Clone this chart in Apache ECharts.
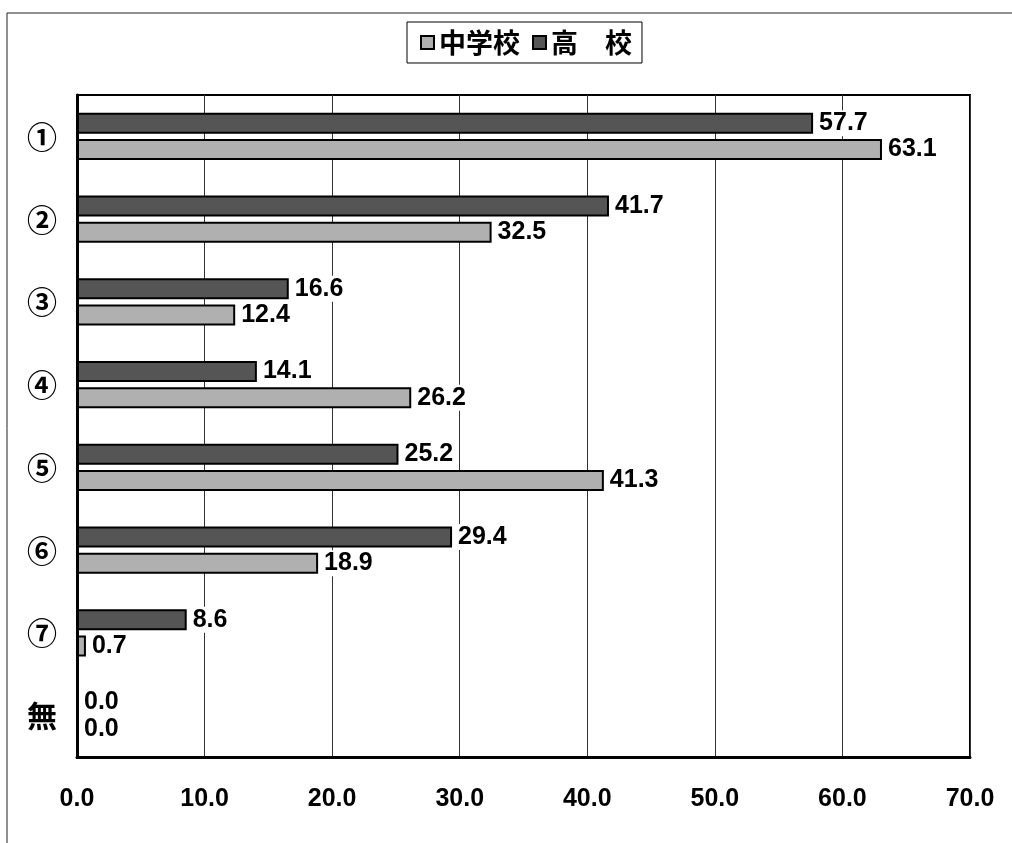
<!DOCTYPE html>
<html><head><meta charset="utf-8">
<script src="https://cdn.jsdelivr.net/npm/echarts@6/dist/echarts.min.js"></script>
<style>html,body{margin:0;padding:0;background:#fff}#c{width:1012px;height:843px}</style>
</head><body><div id="c"></div>
<script>
const categories = ['①','②','③','④','⑤','⑥','⑦','無'];
const highSchool = [57.7, 41.7, 16.6, 14.1, 25.2, 29.4, 8.6, 0.0];
const juniorHigh = [63.1, 32.5, 12.4, 26.2, 41.3, 18.9, 0.7, 0.0];
const seriesNames = ['中学校', '高　校'];
const xTicks = [0, 70, 10];

const numFont = '"Liberation Sans", Arial, sans-serif';
const cjkFont = '"Noto Sans CJK JP", sans-serif';

const chart = echarts.init(document.getElementById('c'));
const lbl = {
  show: true, position: 'right', distance: 4,
  formatter: p => p.value.toFixed(1),
  fontFamily: numFont, fontWeight: 'bold', fontSize: 25, color: '#000',
  backgroundColor: '#fff', padding: [1, 2, 0, 2]
};
chart.setOption({
  animation: false,
  backgroundColor: '#fff',
  graphic: [{ type: 'rect', shape: { x: 7, y: 13, width: 1100, height: 900 },
    style: { fill: 'none', stroke: '#222', lineWidth: 1 }, silent: true }],
  legend: {
    data: [seriesNames[0], seriesNames[1]],
    left: 407, top: 22,
    icon: 'rect',
    itemWidth: 13, itemHeight: 13, itemGap: 12,
    padding: [7, 10, 7, 13],
    borderColor: '#000', borderWidth: 1,
    textStyle: { fontFamily: cjkFont, fontWeight: 'bold', fontSize: 27, color: '#000' }
  },
  grid: { left: 77, right: 42, top: 95, bottom: 86, show: true, borderColor: '#000', borderWidth: 2 },
  xAxis: {
    type: 'value', min: xTicks[0], max: xTicks[1], interval: xTicks[2],
    axisLine: { show: true, lineStyle: { color: '#000', width: 3 } },
    axisTick: { show: false },
    splitLine: { show: true, lineStyle: { color: '#333', width: 1 } },
    axisLabel: { margin: 30, formatter: v => v.toFixed(1),
      fontFamily: numFont, fontWeight: 'bold', fontSize: 25, color: '#000' }
  },
  yAxis: {
    type: 'category', data: categories, inverse: true,
    axisLine: { show: true, lineStyle: { color: '#000', width: 3 } },
    axisTick: { show: false },
    axisLabel: { margin: 20, fontFamily: cjkFont, fontWeight: 'bold', fontSize: 30, color: '#000' }
  },
  series: [
    { name: seriesNames[1], type: 'bar', data: highSchool, barWidth: 21, barGap: '25%',
      itemStyle: { color: '#555', borderColor: '#000', borderWidth: 2 }, label: lbl },
    { name: seriesNames[0], type: 'bar', data: juniorHigh, barWidth: 21, barGap: '25%',
      itemStyle: { color: '#b0b0b0', borderColor: '#000', borderWidth: 2 }, label: lbl }
  ]
});
</script></body></html>
